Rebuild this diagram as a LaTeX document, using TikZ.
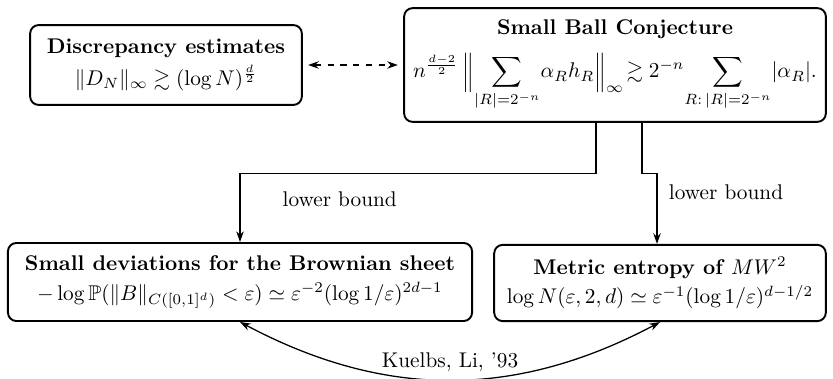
\documentclass[tikz,border=0pt]{standalone}
\usepackage{amsmath}
\usepackage{amssymb}
\usetikzlibrary{arrows.meta,positioning,calc}

\begin{document}
\begin{tikzpicture}[
  x=0.01652cm, y=-0.01652cm,
  result/.style={rectangle, draw, line width=0.9pt, rounded corners=4pt,
                 align=center, inner sep=2pt},
  arrow/.style={-{Stealth[length=5pt,width=3.5pt]}, semithick},
  twoway/.style={{Stealth[length=5pt,width=3.5pt]}-{Stealth[length=5pt,width=3.5pt]}, semithick},
]
  \useasboundingbox (0,0) rectangle (833,379);

  \node[result, minimum width=4.49cm, minimum height=1.32cm] (discrepancy) at (166,65)
    {\textbf{Discrepancy estimates}\\[3pt]
     $\|D_N\|_\infty \gtrsim (\log N)^{\frac{d}{2}}$};
  \node[result, minimum width=6.97cm, minimum height=1.88cm] (smallball) at (615,65)
    {\textbf{Small Ball Conjecture}\\[6pt]
     $\displaystyle n^{\frac{d-2}{2}}\,\Bigl\|\sum_{|R|=2^{-n}}\!\alpha_R h_R\Bigr\|_\infty
      \!\gtrsim 2^{-n}\!\sum_{R:\,|R|=2^{-n}}\!|\alpha_R|.$};
  \node[result, minimum width=7.67cm, minimum height=1.29cm] (deviations) at (240,282)
    {\textbf{Small deviations for the Brownian sheet}\\[2pt]
     $-\log\mathbb{P}(\|B\|_{C([0,1]^d)}<\varepsilon)\simeq\varepsilon^{-2}(\log 1/\varepsilon)^{2d-1}$};
  \node[result, minimum width=5.48cm, minimum height=1.26cm] (entropy) at (660,283)
    {\textbf{Metric entropy of $MW^2$}\\[2pt]
     $\log N(\varepsilon,2,d)\simeq\varepsilon^{-1}(\log 1/\varepsilon)^{d-1/2}$};

  \draw[twoway, dashed, shorten <=2.5pt, shorten >=2.5pt] (discrepancy) -- (smallball);

  \draw[arrow] ($(smallball.south)+(-19,0)$) -- ++(0,51) -| (deviations.north)
    node[pos=0.36, below=5pt]{lower bound};
  \draw[arrow] ($(smallball.south)+(27,0)$) -- ++(0,51) -| ($(entropy.north)+(-3,0)$)
    node[pos=0.63, right=2pt]{lower bound};

  \draw[twoway] (entropy.south) to[bend left=28] node[above]{Kuelbs, Li, '93} (deviations.south);
\end{tikzpicture}
\end{document}
